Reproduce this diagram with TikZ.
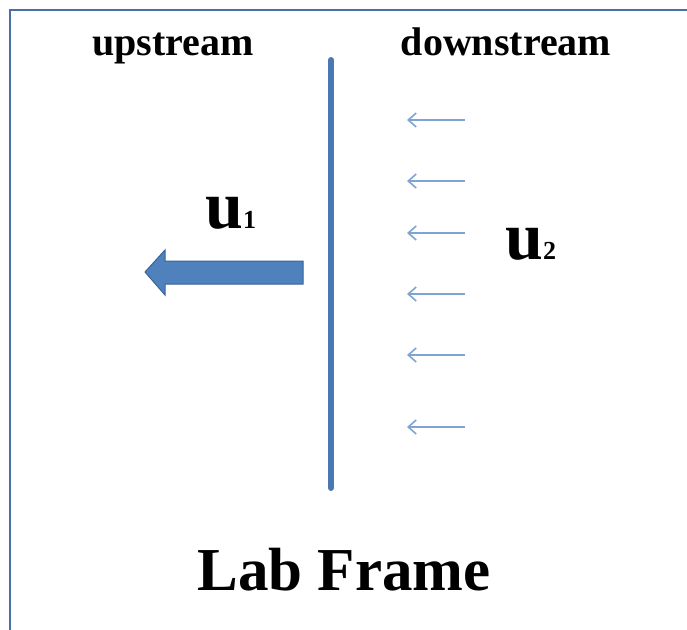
\documentclass[tikz,border=0pt]{standalone}
\usepackage{fontspec}
\setmainfont{Liberation Serif}
\usetikzlibrary{arrows.meta}
\definecolor{frameblue}{HTML}{4A6FA5}
\definecolor{shockblue}{HTML}{4A78B5}
\definecolor{arrowfill}{HTML}{4F81BD}
\definecolor{arrowedge}{HTML}{3A6496}
\definecolor{flowblue}{HTML}{7FA3D3}
\tikzset{
  lbl/.style={anchor=base, inner sep=0pt, font=\bfseries\fontsize{40}{44}\selectfont},
  title/.style={anchor=base, inner sep=0pt, font=\bfseries\fontsize{61}{66}\selectfont},
  vel/.style={anchor=base west, inner sep=0pt, font=\bfseries\fontsize{68}{72}\selectfont},
  flow/.style={draw=flowblue, line width=1.6pt, -{Straight Barb[length=8pt,width=14pt,line width=1.6pt]}},
}
\begin{document}
\begin{tikzpicture}[x=1pt,y=-1pt]
\useasboundingbox (0,0) rectangle (687,629);
\begin{scope}
\clip (0,0) rectangle (687,629);
\draw[frameblue, line width=2pt] (10,10) rectangle (700,640);
\end{scope}
\node[lbl] (up) at (173,55) {upstream};
\node[lbl] (down) at (506,55) {downstream};
\node[title] (lab) at (344,590) {Lab Frame};
\coordinate (stop) at (331,60);
\coordinate (sbot) at (331,488);
\draw[shockblue, line width=6pt, line cap=round] (stop) -- (sbot);
\draw[arrowedge, fill=arrowfill, line width=1pt]
  (303,261) -- (165,261) -- (165,250) -- (145,272) -- (165,295) -- (165,284) -- (303,284) -- cycle;
\node[vel] (u1) at (205,228) {u\raisebox{0pt}{\fontsize{26}{28}\selectfont 1}};
\node[vel] (u2) at (505,259) {u\raisebox{0pt}{\fontsize{26}{28}\selectfont 2}};
\foreach \y [count=\i] in {120,181,233,294,355,427} {
  \coordinate (fs\i) at (465,\y);
  \coordinate (fe\i) at (407,\y);
  \draw[flow] (fs\i) -- (fe\i);
}
\end{tikzpicture}
\end{document}
